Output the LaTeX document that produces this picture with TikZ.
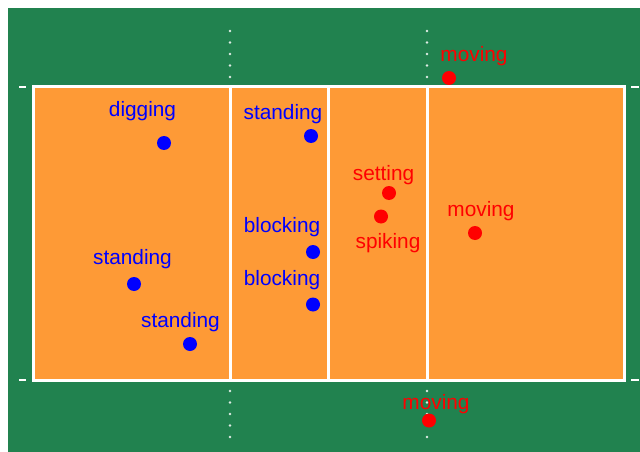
\documentclass[tikz,border=0pt]{standalone}
\usepackage{fontspec}
\setmainfont{Liberation Sans}
\definecolor{field}{RGB}{33,130,79}
\definecolor{court}{RGB}{254,154,54}
\definecolor{pblue}{RGB}{0,0,255}
\definecolor{pred}{RGB}{255,0,0}
\tikzset{
  lbl/.style={anchor=base,inner sep=0pt,font=\fontsize{20.8}{24}\selectfont},
  bluelbl/.style={lbl,text=pblue},
  redlbl/.style={lbl,text=pred},
  bluedot/.style={circle,fill=pblue,minimum size=14pt,inner sep=0pt},
  reddot/.style={circle,fill=pred,minimum size=14pt,inner sep=0pt},
  courtline/.style={draw=white,line width=3pt},
  tick/.style={draw=white,line width=2pt},
  dotmark/.style={circle,fill=white!85!field,minimum size=2.6pt,inner sep=0pt}
}
\begin{document}
\begin{tikzpicture}[x=1pt,y=-1pt]
\useasboundingbox (0,0) rectangle (640,452);
\fill[white] (0,0) rectangle (640,452);
\fill[field] (8,8) rectangle (640,452);
% court
\fill[court] (33,87) rectangle (624,380);
\draw[courtline] (33,87) rectangle (624,380);
\draw[courtline] (230,87) -- (230,380);
\draw[courtline] (328,87) -- (328,380);
\draw[courtline] (427,87) -- (427,380);
% ticks
\draw[tick] (19,87) -- (26,87);
\draw[tick] (19,380) -- (26,380);
\draw[tick] (631,87) -- (639,87);
\draw[tick] (631,380) -- (639,380);
% dotted extensions
\foreach \xx in {230,427}{
  \foreach \yy in {31,42.5,54,65.5,77}{ \node[dotmark] at (\xx,\yy) {}; }
  \foreach \yy in {391,402.5,414,425.5,437}{ \node[dotmark] at (\xx,\yy) {}; }
}
% blue players
\node[bluelbl] (l1) at (142.5,116) {digging};
\node[bluedot] (d1) at (164,143) {};
\node[bluelbl] (l2) at (132.5,264) {standing};
\node[bluedot] (d2) at (134,284) {};
\node[bluelbl] (l3) at (180.5,327) {standing};
\node[bluedot] (d3) at (190,344) {};
\node[bluelbl] (l4) at (283,119.5) {standing};
\node[bluedot] (d4) at (311,136) {};
\node[bluelbl] (l5) at (282,232.5) {blocking};
\node[bluedot] (d5) at (313,252) {};
\node[bluelbl] (l6) at (282,285) {blocking};
\node[bluedot] (d6) at (313,304.5) {};
% red players
\node[redlbl] (r1) at (474,62) {moving};
\node[reddot] (e1) at (449,78) {};
\node[redlbl] (r2) at (383.5,180.5) {setting};
\node[reddot] (e2) at (389,193) {};
\node[redlbl] (r3) at (388,248) {spiking};
\node[reddot] (e3) at (381,216.5) {};
\node[redlbl] (r4) at (481,216.5) {moving};
\node[reddot] (e4) at (475,233) {};
\node[redlbl] (r5) at (436,409) {moving};
\node[reddot] (e5) at (429,420.5) {};
\end{tikzpicture}
\end{document}
